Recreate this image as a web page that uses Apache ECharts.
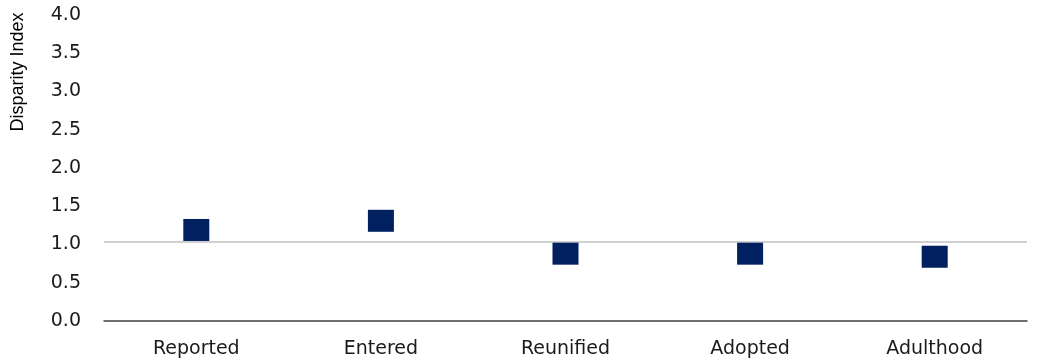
<!DOCTYPE html>
<html><head><meta charset="utf-8">
<script src="https://cdn.jsdelivr.net/npm/echarts@6/dist/echarts.min.js"></script>
<style>html,body{margin:0;padding:0;background:#fff}#c{width:1038px;height:361px}</style>
</head><body><div id="c"></div>
<script>
const categories = ['Reported', 'Entered', 'Reunified', 'Adopted', 'Adulthood'];
const disparityIndex = [1.19, 1.31, 0.88, 0.88, 0.84];
const yTicks = [0, 0.5, 1, 1.5, 2, 2.5, 3, 3.5, 4];
const referenceValue = 1.03;
const yTitle = 'Disparity Index';

const chart = echarts.init(document.getElementById('c'), null, {renderer: 'canvas'});
chart.setOption({
  animation: false,
  backgroundColor: '#ffffff',
  grid: {left: 104, right: 11, top: 15, bottom: 40, containLabel: false},
  xAxis: {
    type: 'category',
    data: categories,
    boundaryGap: true,
    axisLine: {show: true, lineStyle: {color: '#404040', width: 1.5}},
    axisTick: {show: false},
    axisLabel: {color: '#1a1a1a', fontFamily: 'DejaVu Sans', fontSize: 19, margin: 19},
    splitLine: {show: false}
  },
  yAxis: {
    type: 'value',
    min: yTicks[0],
    max: yTicks[yTicks.length - 1],
    interval: 0.5,
    axisLine: {show: false},
    axisTick: {show: false},
    splitLine: {show: false},
    axisLabel: {
      color: '#1a1a1a', fontFamily: 'DejaVu Sans', fontSize: 19, margin: 23,
      formatter: v => v.toFixed(1)
    }
  },
  graphic: [{
    type: 'text',
    x: 18, y: 72,
    rotation: Math.PI / 2,
    style: {
      text: yTitle, fill: '#000', font: '18px "Liberation Sans", Arial, sans-serif',
      align: 'center', verticalAlign: 'middle'
    }
  }],
  series: [{
    type: 'scatter',
    data: disparityIndex,
    symbol: 'rect',
    symbolSize: [26, 22],
    itemStyle: {color: '#002060', opacity: 1},
    emphasis: {disabled: true},
    z: 3,
    markLine: {
      silent: true,
      symbol: 'none',
      label: {show: false},
      lineStyle: {color: '#c0c0c0', width: 1.5, type: 'solid', opacity: 1},
      data: [{yAxis: referenceValue}],
      z: 1
    }
  }]
});
</script></body></html>
